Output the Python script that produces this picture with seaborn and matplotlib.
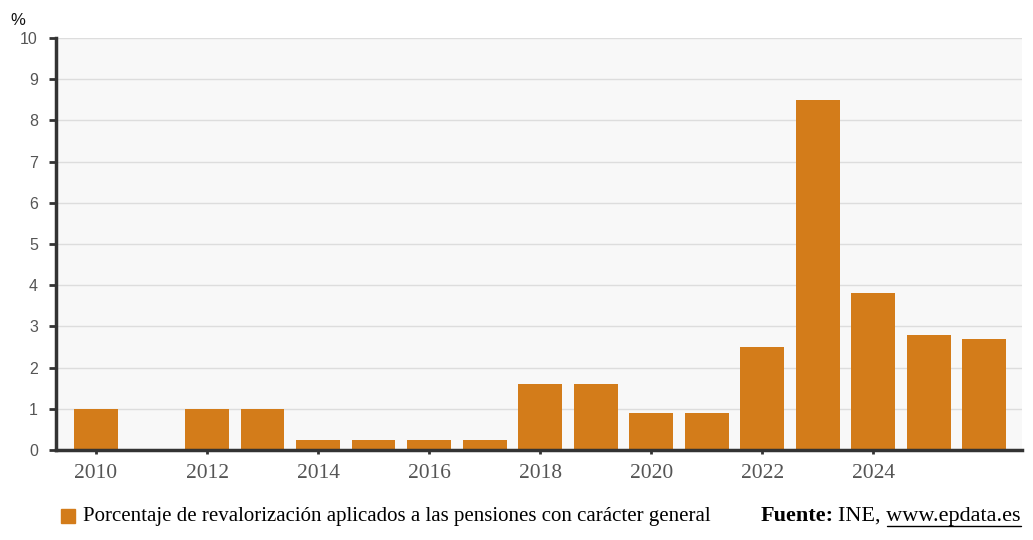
import pandas as pd
import matplotlib
matplotlib.use("Agg")
import matplotlib.pyplot as plt
import matplotlib.patches as mpatches
import seaborn as sns

# Datos: porcentaje de revalorización de las pensiones
anios = [2010, 2011, 2012, 2013, 2014, 2015, 2016, 2017, 2018,
         2019, 2020, 2021, 2022, 2023, 2024, 2025, 2026]
valores = [1.0, 0.0, 1.0, 1.0, 0.25, 0.25, 0.25, 0.25, 1.6,
           1.6, 0.9, 0.9, 2.5, 8.5, 3.8, 2.8, 2.7]
etiquetas_x = ["2010", "2012", "2014", "2016", "2018", "2020", "2022", "2024"]
serie = "Porcentaje de revalorización aplicados a las pensiones con carácter general"

color_barra = "#d37c1a"
serif = ["Liberation Serif", "DejaVu Serif"]

df = pd.DataFrame({"anio": [str(a) for a in anios], "valor": valores})

sns.set_theme(style="white")
plt.rcParams["font.family"] = ["Liberation Sans", "DejaVu Sans"]

fig = plt.figure(figsize=(10.33, 5.4), dpi=100)
ax = fig.add_axes([56 / 1033, 90 / 540, 966 / 1033, 412 / 540])
ax.set_facecolor("#f8f8f8")

sns.barplot(data=df, x="anio", y="valor", color=color_barra, saturation=1,
            width=0.79, linewidth=0, ax=ax, zorder=3)

ax.set_xlim(-0.72, 16.68)
ax.set_ylim(0, 10)
ax.set_yticks(range(0, 11))
ax.yaxis.grid(True, color="#dddddd", linewidth=1, zorder=0)
ax.set_axisbelow(True)

pos = [anios.index(int(e)) for e in etiquetas_x]
ax.set_xticks(pos)
ax.set_xticklabels(etiquetas_x, family=serif, fontsize=15.5, color="#555555")
for lab in ax.get_yticklabels():
    lab.set_fontsize(11.5)
    lab.set_color("#555555")

ax.tick_params(axis="y", length=5, width=2, color="#333333", pad=8, left=True)
ax.tick_params(axis="x", length=3, width=2, color="#333333", pad=7, bottom=True)
ax.set_xlabel("")
ax.set_ylabel("")

for lado in ["top", "right"]:
    ax.spines[lado].set_visible(False)
for lado in ["left", "bottom"]:
    ax.spines[lado].set_color("#333333")
    ax.spines[lado].set_linewidth(2.5)
    ax.spines[lado].set_zorder(5)

fig.text(10 / 1033, 1 - 25 / 540, "%", fontsize=12, color="#111111")

# Leyenda y fuente
fig.patches.append(mpatches.Rectangle((61 / 1033, 1 - 523 / 540), 14 / 1033, 14 / 540,
                                      transform=fig.transFigure, color=color_barra))
fig.text(83 / 1033, 1 - 516 / 540, serie, family=serif,
         fontsize=15, color="black", va="center")
t1 = fig.text(1021 / 1033, 1 - 516 / 540, "INE, www.epdata.es", family=serif,
              fontsize=16, color="black", va="center", ha="right")
fig.canvas.draw()
r = fig.canvas.get_renderer()
bb = t1.get_window_extent(renderer=r)
fig.text(bb.x0 / 1033 - 0.005, 1 - 516 / 540, "Fuente:", family=serif, fontsize=16,
         weight="bold", color="black", va="center", ha="right")
# subrayado de la web
t_ine = fig.text(0, 0, "INE, ", family=serif, fontsize=16)
w_ine = t_ine.get_window_extent(renderer=r).width
t_ine.remove()
fig.add_artist(plt.Line2D([(bb.x0 + w_ine) / 1033, bb.x1 / 1033],
                          [1 - 526 / 540, 1 - 526 / 540], color="black", linewidth=1,
                          transform=fig.transFigure))

fig.savefig("out.png", dpi=100)
